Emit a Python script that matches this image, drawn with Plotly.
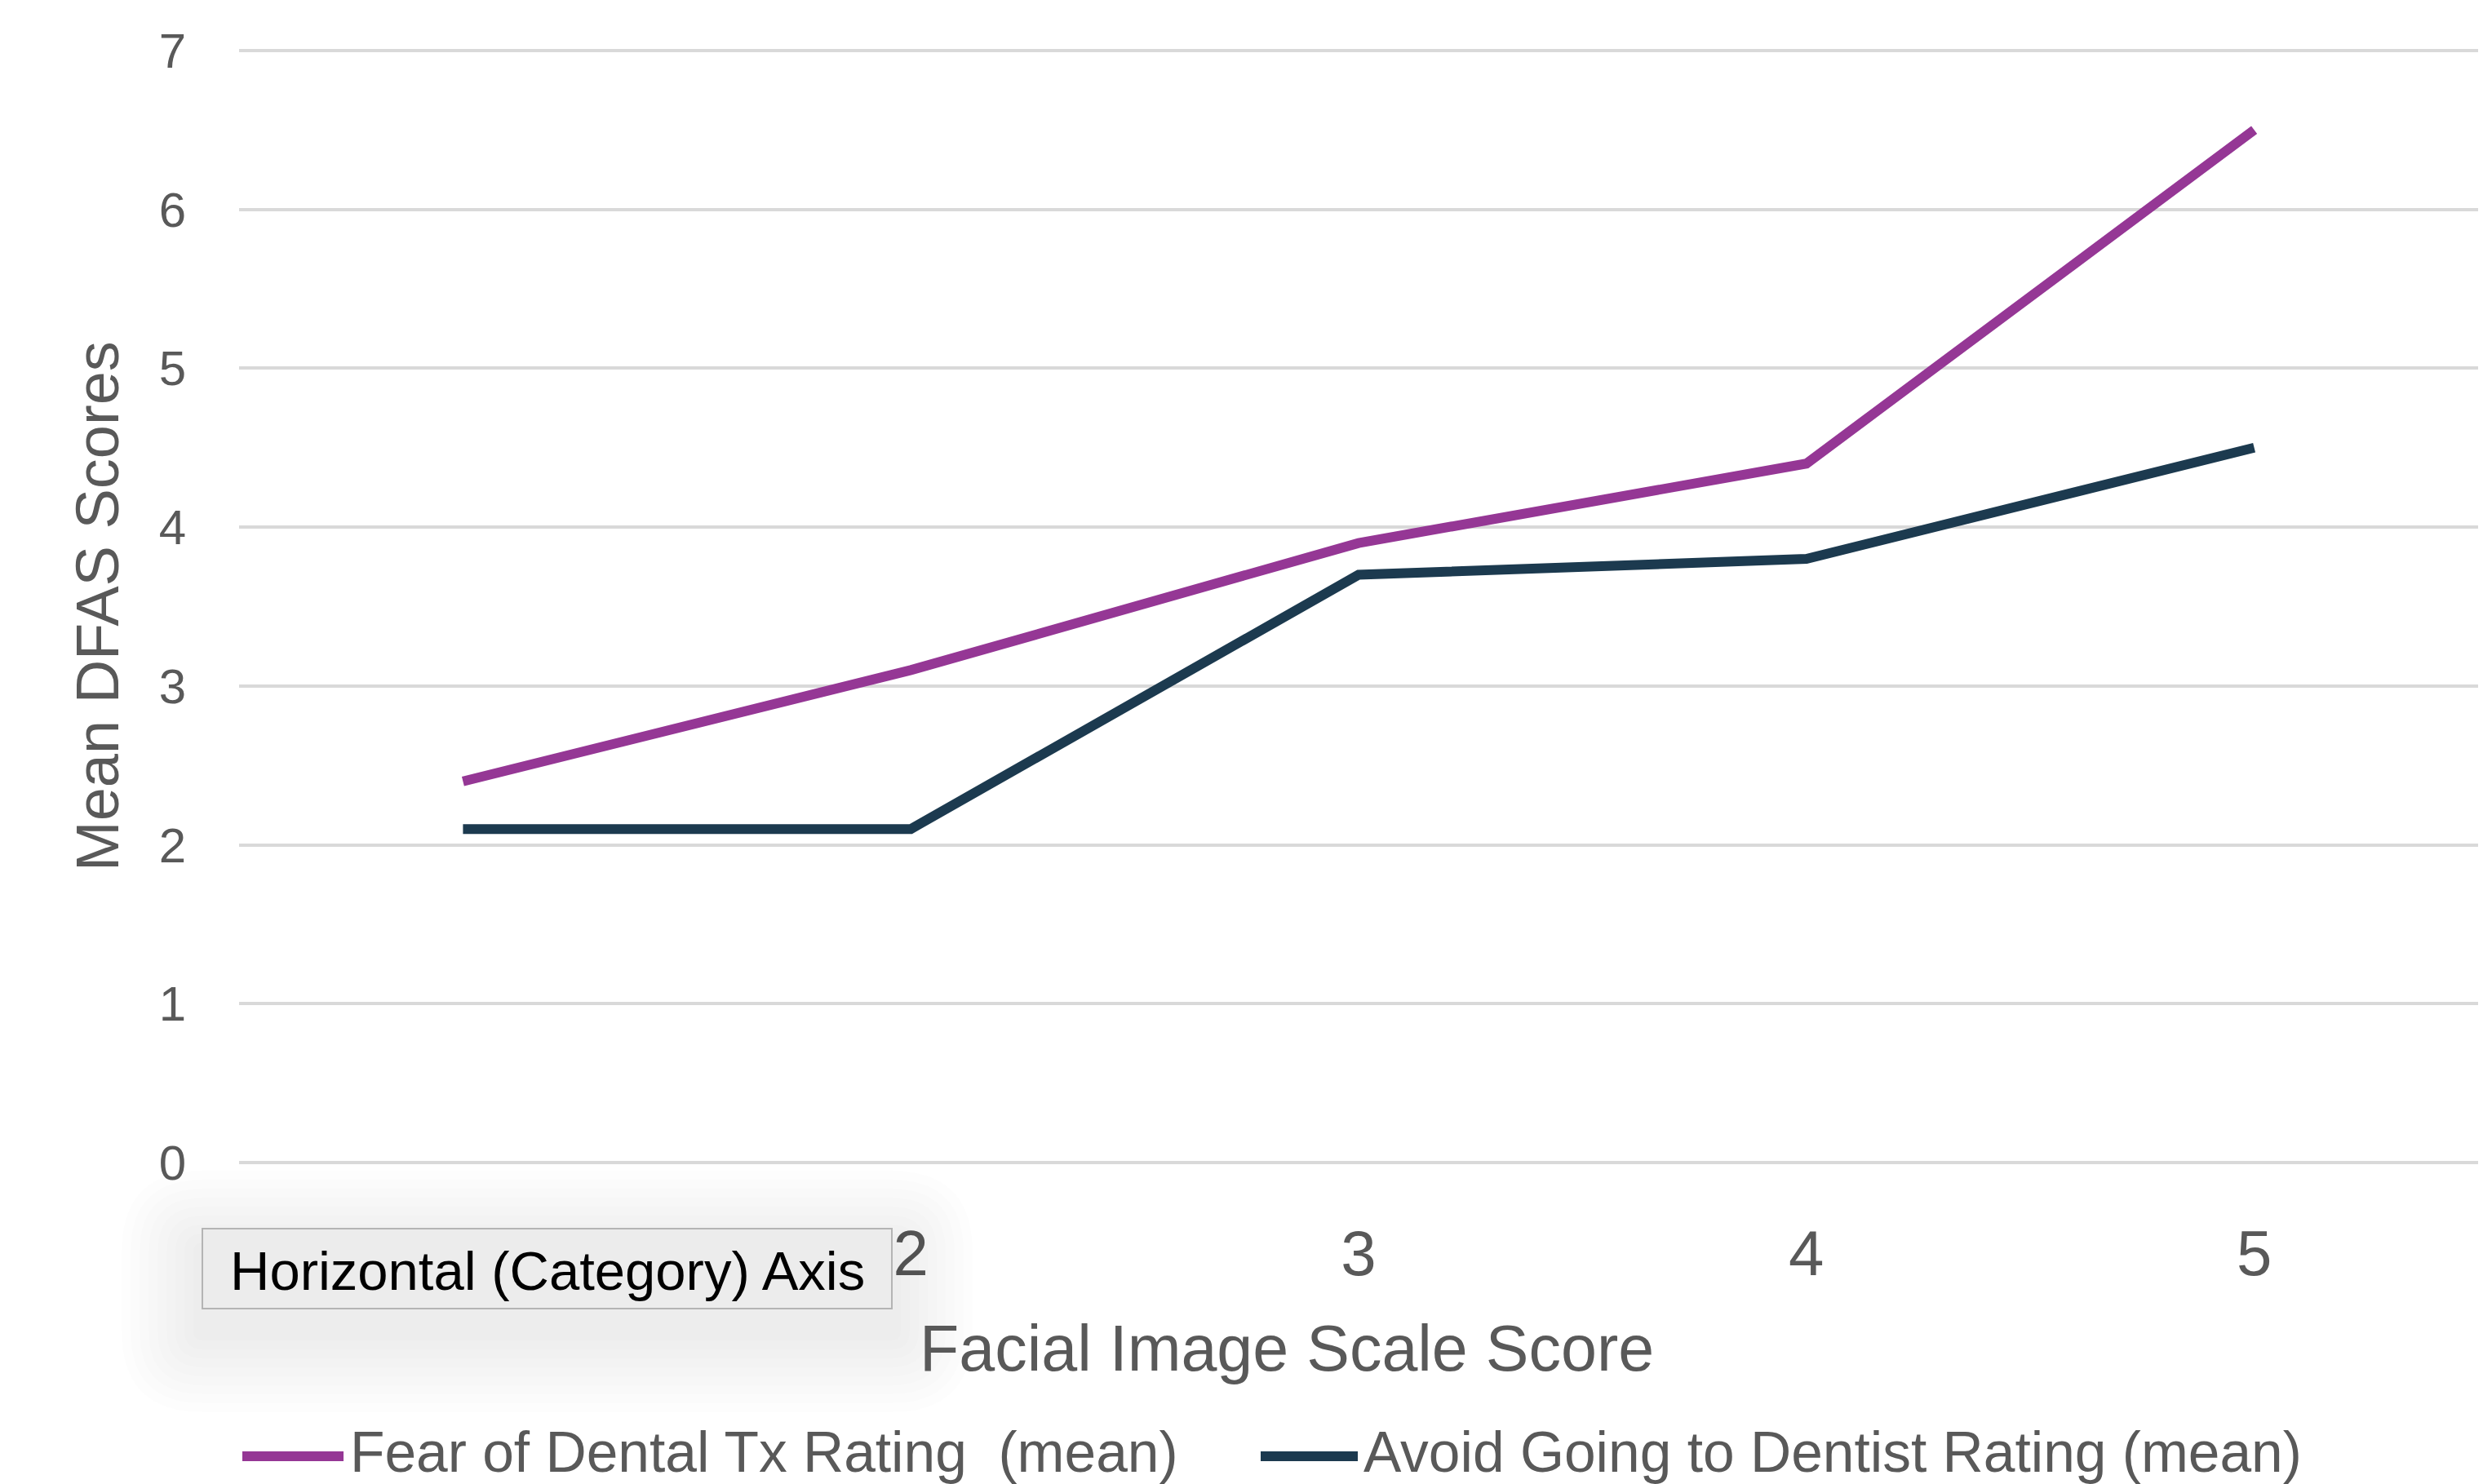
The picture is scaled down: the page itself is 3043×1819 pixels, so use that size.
import plotly.graph_objects as go

# ---------------- data ----------------
categories = ["1", "2", "3", "4", "5"]
fear_mean = [2.4, 3.1, 3.9, 4.4, 6.5]
avoid_mean = [2.1, 2.1, 3.7, 3.8, 4.5]
y_tick_values = [0, 1, 2, 3, 4, 5, 6, 7]
series_names = ["Fear of Dental Tx Rating  (mean)", "Avoid Going to Dentist Rating (mean)"]
series_colors = ["#953795", "#1C3A4F"]
x_title = "Facial Image Scale Score"
y_title = "Mean DFAS Scores"
tooltip_text = "Horizontal (Category) Axis"

# ---------------- geometry (pixels) ----------------
W, H = 3043, 1819
L, R, T, B = 293, 3037, 62, 1425   # pixel positions of x-range ends and y=7 / y=0
PW, PH = R - L, B - T
Y0, Y1 = 0, 7
PAD = 0.015                          # tiny range padding so edge gridlines are drawn
UNIT = PH / (Y1 - Y0)
T_M = T - PAD * UNIT
B_M = B + PAD * UNIT
FONT = "Liberation Sans, Arial, Helvetica, sans-serif"
GRAY = "#595959"


def px(x):
    return (x - L) / PW


def py(y):
    return (B_M - y) / (B_M - T_M)


fig = go.Figure()
for name, vals, col in zip(series_names, [fear_mean, avoid_mean], series_colors):
    fig.add_trace(go.Scatter(x=categories, y=vals, mode="lines", name=name,
                             line=dict(color=col, width=12), showlegend=False,
                             hoverinfo="skip"))

shapes = []
annotations = []

# custom legend
legend_items = [(297, 421, 427), (1545, 1664, 1669)]
for (x0, x1, xt), name, col in zip(legend_items, series_names, series_colors):
    shapes.append(dict(type="line", xref="paper", yref="paper",
                       x0=px(x0), x1=px(x1), y0=py(1785), y1=py(1785),
                       line=dict(color=col, width=12)))
    annotations.append(dict(text=name, xref="paper", yref="paper",
                            x=px(xt), y=py(1780), xanchor="left", yanchor="middle",
                            showarrow=False, font=dict(family=FONT, size=69.5, color=GRAY)))

# axis titles
annotations.append(dict(text=x_title, xref="paper", yref="paper", x=px(1577), y=py(1652),
                        xanchor="center", yanchor="middle", showarrow=False,
                        font=dict(family=FONT, size=79, color=GRAY)))
annotations.append(dict(text=y_title, xref="paper", yref="paper", x=px(120), y=py(743),
                        xanchor="center", yanchor="middle", showarrow=False, textangle=-90,
                        font=dict(family=FONT, size=74, color=GRAY)))

# tooltip shadow + box
bx0, bx1, by0, by1 = 248, 1093, 1506, 1604
for i in range(1, 10):
    e = i * 11
    r = e
    x0, x1, y0, y1 = bx0 - e, bx1 + e, by0 - e + 28, by1 + e + 28
    path = (f"M {px(x0 + r)},{py(y0)} L {px(x1 - r)},{py(y0)} "
            f"Q {px(x1)},{py(y0)} {px(x1)},{py(y0 + r)} L {px(x1)},{py(y1 - r)} "
            f"Q {px(x1)},{py(y1)} {px(x1 - r)},{py(y1)} L {px(x0 + r)},{py(y1)} "
            f"Q {px(x0)},{py(y1)} {px(x0)},{py(y1 - r)} L {px(x0)},{py(y0 + r)} "
            f"Q {px(x0)},{py(y0)} {px(x0 + r)},{py(y0)} Z")
    shapes.append(dict(type="path", path=path, xref="paper", yref="paper",
                       fillcolor="rgba(0,0,0,0.009)", line=dict(width=0), layer="above"))
shapes.append(dict(type="rect", xref="paper", yref="paper",
                   x0=px(bx0), x1=px(bx1), y0=py(by1), y1=py(by0),
                   fillcolor="#ececec", line=dict(color="#b4b4b4", width=2), layer="above"))
annotations.append(dict(text=tooltip_text, xref="paper", yref="paper",
                        x=px((bx0 + bx1) / 2), y=py((by0 + by1) / 2 + 2),
                        xanchor="center", yanchor="middle", showarrow=False,
                        font=dict(family=FONT, size=67, color="#000000")))

fig.update_layout(
    width=W, height=H,
    margin=dict(l=L, r=W - R, t=T_M, b=H - B_M, autoexpand=False),
    paper_bgcolor="white", plot_bgcolor="white",
    showlegend=False,
    xaxis=dict(type="category", range=[-0.5, 4.5], showgrid=False, zeroline=False,
               showline=False, ticks="", ticklabelstandoff=56,
               tickfont=dict(family=FONT, size=78, color=GRAY)),
    yaxis=dict(range=[Y0 - PAD, Y1 + PAD], tickvals=y_tick_values, showgrid=True,
               gridcolor="#d9d9d9", gridwidth=4, zeroline=False, showline=False,
               ticks="", ticklabelstandoff=64,
               tickfont=dict(family=FONT, size=60, color=GRAY)),
    shapes=shapes,
    annotations=annotations,
)

fig.write_html("out.html", config={"displayModeBar": False},
               post_script="document.body.style.margin='0';document.body.style.overflow='hidden';")
